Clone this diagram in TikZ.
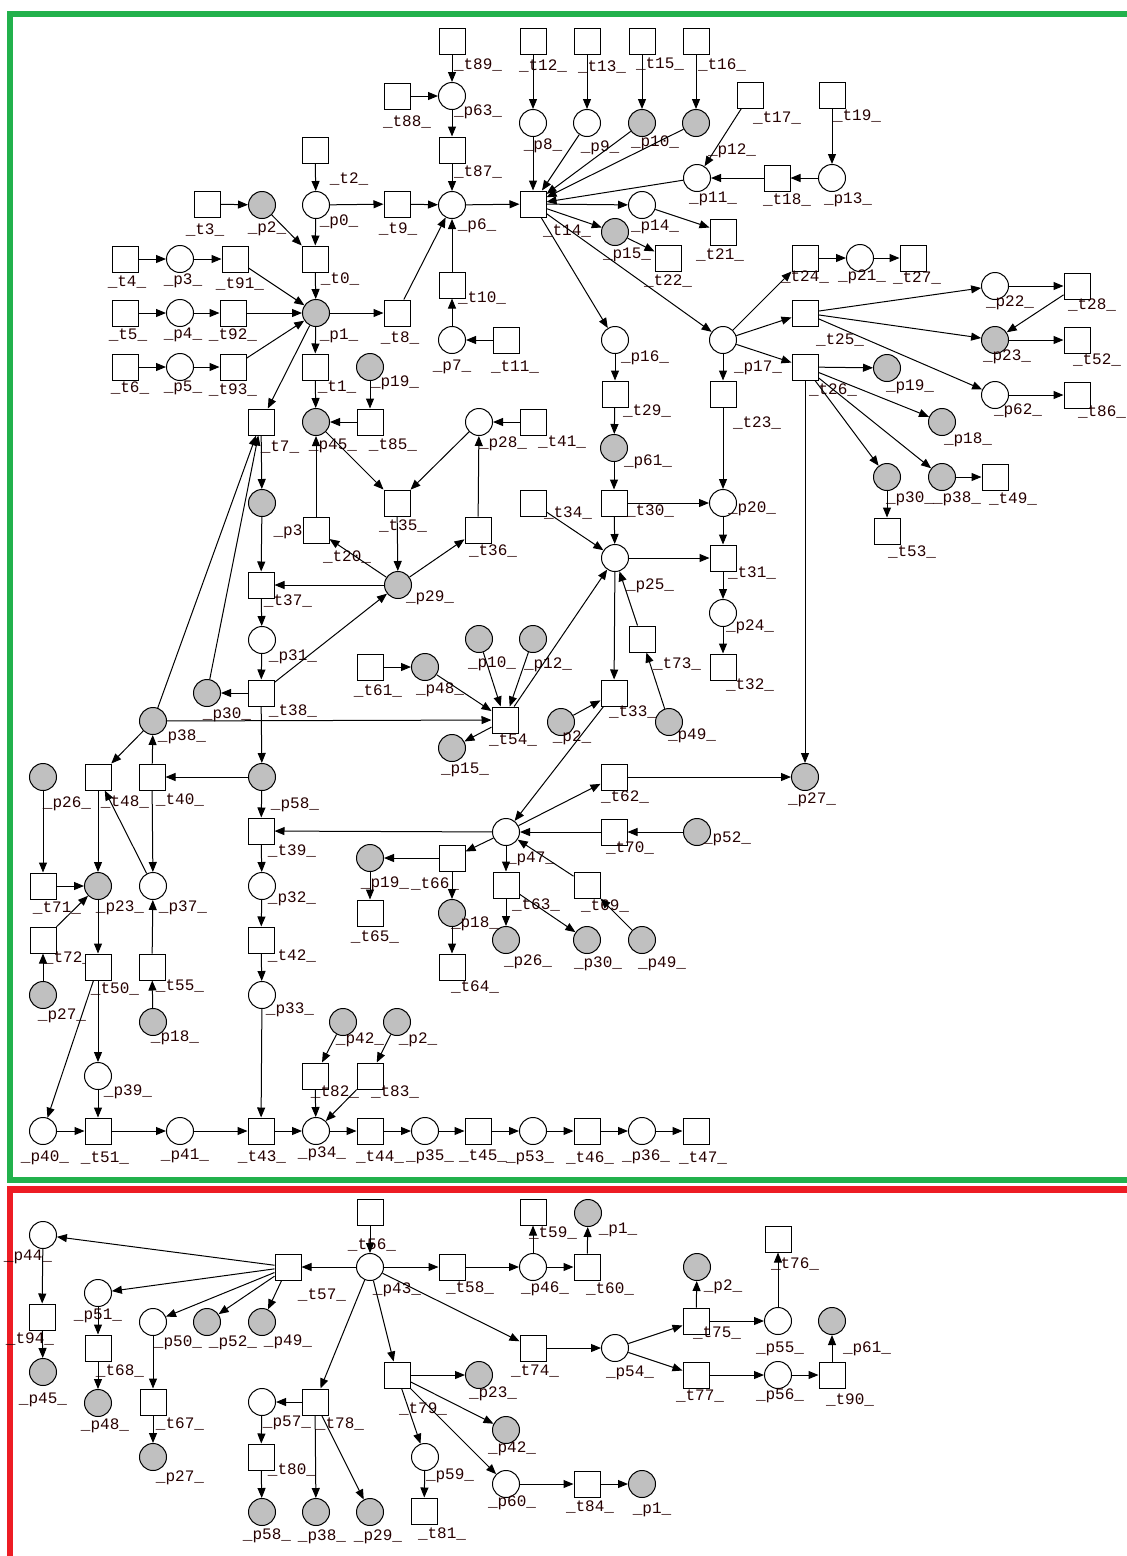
\documentclass[tikz,border=0pt]{standalone}
\usepackage{fontspec}
\newfontfamily\lblfont{Liberation Mono}
\usetikzlibrary{arrows.meta}
\definecolor{placegray}{RGB}{192,192,192}
\definecolor{framegreen}{RGB}{34,177,76}
\definecolor{framered}{RGB}{237,28,36}
\tikzset{
  trans/.style={draw, line width=1pt, minimum size=26pt, inner sep=0pt, fill=white},
  plw/.style={circle, draw, line width=1pt, minimum size=27pt, inner sep=0pt, fill=white},
  plg/.style={plw, fill=placegray},
  lbl/.style={inner sep=0pt, text=black!85!red, font=\lblfont\fontsize{16}{16}\selectfont},
  arc/.style={-{Triangle[length=10pt,width=8pt]}, line width=1pt},
}
\newcommand\TR[4]{\node[trans] (#1) at (#2) {}; \node[lbl] (L#1) at (#3) {\_#4\_};}
\newcommand\PW[4]{\node[plw] (#1) at (#2) {}; \node[lbl] (L#1) at (#3) {\_#4\_};}
\newcommand\PG[4]{\node[plg] (#1) at (#2) {}; \node[lbl] (L#1) at (#3) {\_#4\_};}
\begin{document}
\begin{tikzpicture}[x=1pt,y=-1pt]
\useasboundingbox (0,0) rectangle (1127,1556);
\clip (0,0) rectangle (1127,1556);
\fill[white] (0,0) rectangle (1127,1556);
\draw[framegreen, line width=6pt] (10,13.5) rectangle (1145,1180);
\draw[framered, line width=6.5pt] (10,1189.5) rectangle (1145,1562);

% transitions
\TR{t2}{315,150}{349,179}{t2}
\TR{t3}{207,204}{205,230}{t3}
\TR{t0}{315,259}{340,279}{t0}
\TR{t4}{125,259}{127,282}{t4}
\TR{t91}{235,259}{240,284}{t91}
\TR{t5}{125,313}{128,335}{t5}
\TR{t92}{233,313}{233,335}{t92}
\TR{t6}{125,367}{130,388}{t6}
\TR{t93}{233,367}{233,390}{t93}
\TR{t1}{315,367}{337,387}{t1}
\TR{t89}{452,41}{478,65}{t89}
\TR{t88}{397,96}{407,122}{t88}
\TR{t87}{452,150}{478,172}{t87}
\TR{t9}{397,204}{398,229}{t9}
\TR{t8}{397,313}{400,338}{t8}
\TR{t10}{452,285}{482,298}{t10}
\TR{t11}{506,340}{515,367}{t11}
\TR{t12}{533,41}{543,66}{t12}
\TR{t13}{587,41}{602,67}{t13}
\TR{t15}{642,41}{660,64}{t15}
\TR{t16}{696,41}{722,65}{t16}
\TR{t17}{750,95}{777,118}{t17}
\TR{t19}{832,95}{857,116}{t19}
\TR{t18}{777,178}{787,200}{t18}
\TR{t14}{533,204}{567,231}{t14}
\TR{t21}{723,232}{720,255}{t21}
\TR{t22}{668,258}{668,281}{t22}
\TR{t24}{805,258}{805,277}{t24}
\TR{t27}{913,258}{917,278}{t27}
\TR{t25}{805,313}{840,340}{t25}
\TR{t26}{805,367}{833,390}{t26}
\TR{t28}{1077,286}{1092,305}{t28}
\TR{t52}{1077,340}{1097,360}{t52}
\TR{t86}{1077,395}{1102,412}{t86}
\TR{t29}{615,394}{647,411}{t29}
\TR{t23}{723,394}{757,423}{t23}
\TR{t49}{995,477}{1013,499}{t49}
\TR{t53}{887,531}{912,552}{t53}
\TR{t85}{370,422}{393,445}{t85}
\TR{t7}{261,422}{280,447}{t7}
\TR{t41}{533,422}{562,442}{t41}
\TR{t35}{397,503}{403,526}{t35}
\TR{t36}{478,530}{493,551}{t36}
\TR{t20}{316,530}{347,557}{t20}
\TR{t34}{533,503}{568,513}{t34}
\TR{t30}{614,503}{650,511}{t30}
\TR{t31}{723,558}{752,573}{t31}
\TR{t32}{723,667}{750,685}{t32}
\TR{t37}{261,585}{288,601}{t37}
\TR{t38}{261,693}{293,711}{t38}
\TR{t73}{642,639}{677,664}{t73}
\TR{t33}{614,693}{633,712}{t33}
\TR{t61}{370,667}{378,691}{t61}
\TR{t54}{505,720}{513,740}{t54}
\TR{t62}{614,777}{625,797}{t62}
\TR{t40}{152,777}{180,800}{t40}
\TR{t48}{98,777}{125,802}{t48}
\TR{t39}{261,831}{292,851}{t39}
\TR{t70}{614,832}{630,848}{t70}
\TR{t66}{452,858}{435,884}{t66}
\TR{t63}{506,885}{536,905}{t63}
\TR{t69}{587,885}{605,906}{t69}
\TR{t65}{370,913}{375,937}{t65}
\TR{t64}{452,967}{475,987}{t64}
\TR{t71}{43,886}{57,908}{t71}
\TR{t72}{43,940}{68,958}{t72}
\TR{t50}{98,967}{115,989}{t50}
\TR{t55}{152,967}{180,986}{t55}
\TR{t42}{261,940}{292,956}{t42}
\TR{t82}{315,1076}{335,1092}{t82}
\TR{t83}{370,1076}{395,1092}{t83}
\TR{t51}{98,1131}{105,1158}{t51}
\TR{t43}{261,1131}{262,1157}{t43}
\TR{t44}{370,1131}{380,1157}{t44}
\TR{t45}{478,1131}{483,1156}{t45}
\TR{t46}{587,1131}{590,1158}{t46}
\TR{t47}{696,1131}{703,1158}{t47}
\TR{t56}{370,1212}{372,1245}{t56}
\TR{t57}{288,1267}{322,1295}{t57}
\TR{t58}{452,1267}{470,1288}{t58}
\TR{t59}{533,1212}{553,1233}{t59}
\TR{t60}{587,1267}{610,1289}{t60}
\TR{t94}{42,1317}{30,1339}{t94}
\TR{t68}{98,1348}{120,1371}{t68}
\TR{t67}{153,1402}{180,1424}{t67}
\TR{t78}{315,1402}{340,1424}{t78}
\TR{t80}{261,1457}{292,1470}{t80}
\TR{t74}{533,1348}{535,1371}{t74}
\TR{t79}{397,1375}{423,1409}{t79}
\TR{t81}{424,1511}{442,1534}{t81}
\TR{t84}{587,1484}{590,1507}{t84}
\TR{t75}{696,1321}{717,1333}{t75}
\TR{t77}{696,1375}{700,1396}{t77}
\TR{t76}{778,1239}{795,1264}{t76}
\TR{t90}{832,1375}{850,1400}{t90}

% places
\PW{p0}{316,205}{339,222}{p0}
\PG{p2a}{262,205}{267,229}{p2}
\PW{p3}{180,259}{183,281}{p3}
\PW{p4}{180,313}{183,335}{p4}
\PW{p5}{180,367}{183,388}{p5}
\PG{p1}{316,313}{339,336}{p1}
\PG{p19a}{370,367}{395,383}{p19}
\PW{p63}{452,96}{478,112}{p63}
\PW{p6}{452,205}{477,226}{p6}
\PW{p7}{452,340}{452,367}{p7}
\PW{p8}{533,123}{543,146}{p8}
\PW{p9}{587,123}{600,148}{p9}
\PG{p10a}{642,123}{655,143}{p10}
\PG{p12a}{696,123}{732,151}{p12}
\PW{p11}{697,178}{713,199}{p11}
\PW{p13}{832,178}{848,200}{p13}
\PW{p14}{642,205}{655,227}{p14}
\PG{p15a}{615,232}{627,255}{p15}
\PW{p16}{615,340}{645,358}{p16}
\PW{p17}{723,340}{758,368}{p17}
\PW{p21}{860,258}{862,277}{p21}
\PW{p22}{995,286}{1010,303}{p22}
\PG{p23a}{995,340}{1007,357}{p23}
\PW{p62}{995,395}{1018,411}{p62}
\PG{p19b}{887,368}{910,387}{p19}
\PG{p18a}{942,422}{968,440}{p18}
\PG{p30a}{887,477}{910,499}{p30}
\PG{p38a}{942,477}{957,499}{p38}
\PG{p27a}{805,777}{812,800}{p27}
\PG{p45a}{316,422}{333,446}{p45}
\PW{p28}{479,422}{503,444}{p28}
\PG{p61a}{614,448}{648,462}{p61}
\PW{p20}{723,503}{752,509}{p20}
\PG{p29a}{398,585}{430,598}{p29}
\PW{p25}{615,558}{650,586}{p25}
\PW{p24}{723,613}{750,627}{p24}
\PG{p49a}{669,722}{692,736}{p49}
\PG{p2b}{561,722}{572,738}{p2}
\PG{p10b}{479,639}{492,664}{p10}
\PG{p12b}{533,639}{548,665}{p12}
\PG{p48a}{425,667}{440,690}{p48}
\PG{p15b}{452,748}{465,770}{p15}
\node[plg] (pX) at (262,503) {};
\PW{p31}{262,640}{293,657}{p31}
\PG{p30b}{207,693}{227,715}{p30}
\PG{p38b}{153,721}{182,737}{p38}
\PG{p58a}{262,777}{295,805}{p58}
\PG{p26a}{43,777}{67,804}{p26}
\PG{p23b}{98,886}{120,908}{p23}
\PW{p37}{153,886}{183,908}{p37}
\PG{p27b}{43,995}{62,1016}{p27}
\PG{p18b}{153,1022}{175,1038}{p18}
\PW{p39}{98,1076}{128,1092}{p39}
\PW{p40}{43,1131}{45,1158}{p40}
\PW{p41}{180,1131}{185,1156}{p41}
\PW{p32}{262,886}{292,899}{p32}
\PW{p33}{262,995}{290,1010}{p33}
\PG{p42a}{343,1022}{360,1040}{p42}
\PG{p2c}{397,1022}{418,1040}{p2}
\PW{p34}{316,1131}{322,1154}{p34}
\PW{p35}{425,1131}{430,1157}{p35}
\PW{p53}{533,1131}{530,1158}{p53}
\PW{p36}{642,1131}{646,1157}{p36}
\PW{p47}{506,832}{531,859}{p47}
\PG{p52a}{697,832}{727,839}{p52}
\PG{p19c}{370,858}{385,884}{p19}
\PG{p18c}{452,913}{475,924}{p18}
\PG{p26b}{506,940}{528,962}{p26}
\PG{p30c}{587,940}{598,964}{p30}
\PG{p49b}{642,940}{662,964}{p49}
\PW{p44}{43,1235}{28,1257}{p44}
\PG{p45b}{43,1372}{43,1400}{p45}
\PW{p51}{98,1293}{98,1316}{p51}
\PG{p48b}{98,1403}{105,1426}{p48}
\PW{p50}{153,1322}{178,1343}{p50}
\PG{p27c}{153,1457}{180,1478}{p27}
\PG{p52b}{207,1322}{233,1343}{p52}
\PG{p49c}{262,1322}{288,1342}{p49}
\PW{p43}{370,1267}{397,1290}{p43}
\PW{p57}{262,1402}{287,1423}{p57}
\PG{p58b}{262,1512}{267,1536}{p58}
\PG{p38c}{316,1512}{322,1537}{p38}
\PG{p29b}{370,1512}{378,1537}{p29}
\PW{p46}{533,1267}{545,1289}{p46}
\PG{p1b}{588,1213}{618,1230}{p1}
\PG{p2d}{697,1267}{723,1287}{p2}
\PW{p54}{615,1348}{630,1373}{p54}
\PG{p23c}{479,1375}{493,1394}{p23}
\PG{p42b}{506,1430}{512,1449}{p42}
\PW{p59}{425,1457}{450,1476}{p59}
\PW{p60}{506,1484}{512,1503}{p60}
\PG{p1c}{642,1484}{652,1510}{p1}
\PW{p55}{778,1321}{780,1349}{p55}
\PW{p56}{778,1375}{780,1396}{p56}
\PG{p61b}{832,1321}{867,1349}{p61}
\node[lbl] (Lp3x) at (288,532) {\_p3};

% arcs
\foreach \a/\b in {t2/p0, p0/t9, t9/p6, p0/t0, t3/p2a, p2a/t0, t4/p3, p3/t91, t91/p1,
  t5/p4, p4/t92, t92/p1, t6/p5, p5/t93, t93/p1, t0/p1, p1/t8, t8/p6, p1/t1, p1/t7,
  t89/p63, t88/p63, p63/t87, t87/p6, p7/t10, t10/p6, t11/p7, p6/t14,
  t12/p8, t13/p9, t15/p10a, t16/p12a, p8/t14, p9/t14, p10a/t14, p12a/t14, p11/t14,
  t17/p11, t18/p11, t19/p13, p13/t18,
  t14/p14, p14/t21, t14/p15a, p15a/t22, t14/p16, t14/p17,
  p16/t29, t29/p61a, p61a/t30, t30/p20, t30/p25, t34/p25, p25/t31, p20/t31, t31/p24, p24/t32,
  p17/t23, t23/p20, p17/t24, t24/p21, p21/t27, p17/t25, p17/t26,
  t25/p22, t25/p23a, t25/p62, p22/t28, t28/p23a, p23a/t52, p62/t86,
  t26/p19b, t26/p18a, t26/p38a, t26/p30a, t26/p27a, p38a/t49, p30a/t53,
  p25/t33, t73/p25, p49a/t73, p2b/t33, t33/p47, t54/p25, p10b/t54, p12b/t54, p48a/t54,
  t61/p48a, p38b/t54, t54/p15b,
  p47/t62, t62/p27a, t70/p47, p52a/t70, p47/t66, t66/p19c, t66/p18c, p18c/t64, p19c/t65,
  p47/t63, t63/p26b, t63/p30c, t69/p47, p49b/t69, p47/t39,
  t7/pX, pX/t37, t37/p31, p31/t38, t38/p30b, t38/p58a, t38/p29a, p29a/t37, p29a/t20,
  t20/p45a, p29a/t36, t36/p28, t41/p28, p28/t35, p45a/t35, t35/p29a, t85/p45a, p19a/t85, t1/p45a,
  p30b/t7, p38b/t7, p58a/t40, t40/p38b, p38b/t48, t48/p23b, p37/t48, t40/p37, t55/p37, p18b/t55,
  p26a/t71, t71/p23b, t72/p23b, p27b/t72, p23b/t50, t50/p39, t50/p40, p39/t51, p40/t51,
  t51/p41, p41/t43, p33/t43, t43/p34, t82/p34, t83/p34, p42a/t82, p2c/t83,
  p34/t44, t44/p35, p35/t45, t45/p53, p53/t46, t46/p36, p36/t47,
  p58a/t39, t39/p32, p32/t42, t42/p33,
  t56/p43, p43/t57, t57/p44, t57/p51, t57/p50, t57/p52b, t57/p49c, p44/t94, t94/p45b,
  p51/t68, t68/p48b, p50/t67, t67/p27c, p43/t78, t78/p57, p57/t80, t80/p58b, t78/p38c, t78/p29b,
  p43/t58, t58/p46, p46/t59, p46/t60, t60/p1b, p43/t74, p43/t79, t74/p54, p54/t75, p54/t77,
  t75/p2d, t75/p55, p55/t76, t77/p56, p56/t90, t90/p61b,
  t79/p23c, t79/p42b, t79/p59, t79/p60, p59/t81, p60/t84, t84/p1c}
  {\draw[arc] (\a) -- (\b);}
\end{tikzpicture}
\end{document}
